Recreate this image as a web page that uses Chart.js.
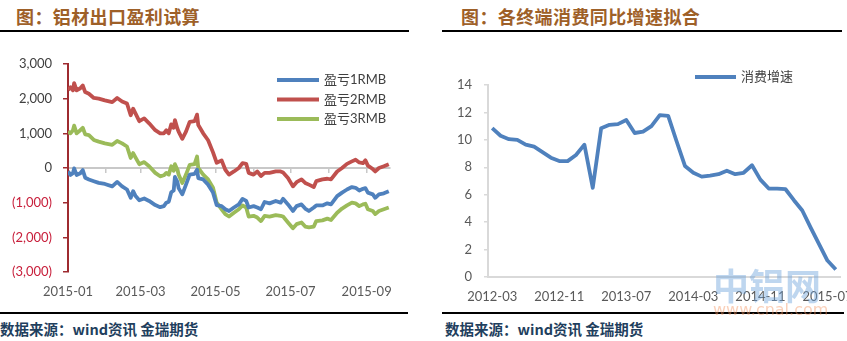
<!DOCTYPE html>
<html>
<head>
<meta charset="utf-8">
<script src="https://cdn.jsdelivr.net/npm/chart.js@4.4.1/dist/chart.umd.min.js"></script>
<style>
  html, body { margin: 0; padding: 0; background: #fff; }
  body { width: 847px; height: 341px; position: relative; overflow: hidden; font-family: 'Noto Sans CJK SC', sans-serif; }
  .title { position: absolute; top: 3px; font-size: 18px; font-weight: bold; color: #9E6028; letter-spacing: 0.4px; white-space: nowrap; }
  .rule { position: absolute; height: 2px; background: #000; }
  .src { position: absolute; top: 318px; font-size: 14.5px; font-weight: bold; color: #1F3F5E; white-space: nowrap; }
  canvas { position: absolute; }
  .wm1 { position: absolute; left: 713px; top: 258px; font-size: 36px; font-weight: bold; color: rgba(110,165,220,0.45); white-space: nowrap; }
  .wm2 { position: absolute; left: 713px; top: 300px; font-size: 16px; color: rgba(245,150,100,0.45); white-space: nowrap; font-family: 'DejaVu Sans', sans-serif; }
</style>
</head>
<body>
<div class="title" style="left:16px">图：铝材出口盈利试算</div>
<div class="title" style="left:461px">图：各终端消费同比增速拟合</div>
<div class="rule" style="left:0;top:30px;width:409px"></div>
<div class="rule" style="left:442px;top:30px;width:400px"></div>
<canvas id="chartLoss" width="410" height="272" style="left:0;top:35px"></canvas>
<canvas id="chartCons" width="440" height="275" style="left:430px;top:35px"></canvas>
<div class="rule" style="left:0;top:312px;width:408px"></div>
<div class="rule" style="left:442px;top:312px;width:402px"></div>
<div class="src" style="left:0">数据来源：wind资讯 金瑞期货</div>
<div class="src" style="left:445px">数据来源：wind资讯 金瑞期货</div>
<div class="wm1">中铝网</div>
<div class="wm2">www.cnal.com</div>

<script>
// 铝材出口盈利试算 (2015)
const lossDates = ['2015-01-01','2015-01-03','2015-01-05','2015-01-06','2015-01-08','2015-01-11','2015-01-13','2015-01-15','2015-01-18','2015-01-22',
  '2015-01-26','2015-01-31','2015-02-06','2015-02-10','2015-02-14','2015-02-18','2015-02-21','2015-02-23','2015-02-25','2015-02-28',
  '2015-03-04','2015-03-08','2015-03-13','2015-03-17','2015-03-20','2015-03-22','2015-03-24','2015-03-26','2015-03-28','2015-03-29',
  '2015-03-31','2015-04-01','2015-04-04','2015-04-07','2015-04-10','2015-04-14','2015-04-16','2015-04-17','2015-04-21','2015-04-25',
  '2015-04-29','2015-05-02','2015-05-06','2015-05-09','2015-05-12','2015-05-16','2015-05-20','2015-05-23','2015-05-26','2015-05-28',
  '2015-06-01','2015-06-04','2015-06-07','2015-06-10','2015-06-14','2015-06-19','2015-06-23','2015-06-25','2015-06-29','2015-07-03',
  '2015-07-06','2015-07-10','2015-07-13','2015-07-16','2015-07-20','2015-07-22','2015-07-27','2015-07-31','2015-08-03','2015-08-08',
  '2015-08-12','2015-08-16','2015-08-20','2015-08-23','2015-08-26','2015-08-29','2015-08-31','2015-09-02','2015-09-06','2015-09-08',
  '2015-09-11','2015-09-15','2015-09-19'];
const loss1 = [-100,-200,-150,-10,-200,-150,-60,-280,-330,-380,
  -430,-460,-530,-400,-530,-620,-860,-670,-810,-930,
  -880,-950,-1070,-1130,-1100,-1000,-970,-700,-650,-260,
  -400,-580,-760,-480,-190,-170,-50,-290,-330,-480,
  -710,-1070,-1100,-1190,-1240,-1140,-1050,-890,-950,-1140,
  -1100,-1140,-1190,-980,-1020,-950,-1000,-890,-1050,-1240,
  -1100,-1050,-1170,-1240,-1140,-1080,-1080,-1020,-1050,-810,
  -710,-620,-550,-570,-650,-600,-580,-710,-760,-860,
  -760,-730,-670];
const loss2 = [2250,2330,2240,2450,2240,2300,2380,2190,2140,2020,
  2000,1950,1900,2020,1920,1860,1520,1710,1570,1350,
  1430,1290,1090,1000,1000,1090,1000,1260,1160,1380,
  1140,1050,840,1050,1330,1350,1540,1240,1000,800,
  450,150,220,-50,-190,-100,0,140,120,-140,
  -190,-100,-230,-140,-140,-100,-100,-130,-290,-530,
  -410,-330,-430,-480,-550,-380,-330,-310,-330,-100,
  0,120,190,240,160,140,220,70,-30,-100,
  0,50,110];
const loss3 = [1050,1000,1090,1220,1000,1090,1160,970,950,810,
  760,710,670,780,710,620,290,430,300,110,
  170,50,-140,-240,-210,-140,-190,50,-80,110,
  -50,-190,-430,-190,90,110,330,0,-190,-330,
  -570,-1000,-1190,-1330,-1400,-1290,-1190,-1080,-1140,-1400,
  -1380,-1430,-1530,-1380,-1400,-1360,-1380,-1400,-1570,-1740,
  -1620,-1570,-1690,-1710,-1690,-1530,-1510,-1460,-1500,-1290,
  -1170,-1080,-1000,-1020,-1100,-1050,-1030,-1190,-1240,-1330,
  -1240,-1190,-1140];
const lossNames = ['盈亏1RMB', '盈亏2RMB', '盈亏3RMB'];
const monthStarts = ['2015-01-01','2015-02-01','2015-03-01','2015-04-01','2015-05-01','2015-06-01','2015-07-01','2015-08-01','2015-09-01'];
const lossTickLabels = ['2015-01','2015-03','2015-05','2015-07','2015-09'];

// 各终端消费同比增速
const consMonths = ['2012-03','2012-04','2012-05','2012-06','2012-07','2012-08','2012-09','2012-10','2012-11','2012-12',
  '2013-01','2013-02','2013-03','2013-04','2013-05','2013-06','2013-07','2013-08','2013-09','2013-10',
  '2013-11','2013-12','2014-01','2014-02','2014-03','2014-04','2014-05','2014-06','2014-07','2014-08',
  '2014-09','2014-10','2014-11','2014-12','2015-01','2015-02','2015-03','2015-04','2015-05','2015-06',
  '2015-07','2015-08'];
const consGrowth = [10.85,10.3,10.05,10.0,9.65,9.5,9.1,8.7,8.45,8.45,
  8.9,9.65,6.5,10.85,11.1,11.15,11.45,10.5,10.6,11.0,
  11.8,11.75,9.9,8.1,7.6,7.32,7.4,7.5,7.75,7.5,
  7.6,8.15,7.1,6.45,6.45,6.4,5.6,4.85,3.6,2.4,
  1.2,0.55];

const BLUE = '#4F81BD', RED = '#C0504D', GREEN = '#9BBB59';
const TXT = '#595959';

Chart.defaults.font.family = "Lato, 'Noto Sans CJK SC', sans-serif";
Chart.defaults.font.size = 13;
Chart.defaults.color = TXT;

const day0 = Date.parse('2015-01-01');
const dayOf = s => (Date.parse(s) - day0) / 86400000;
const pts = arr => arr.map((v, i) => ({ x: dayOf(lossDates[i]), y: v }));

// legend drawn inside the plot, like the excel one
const innerLegend = {
  id: 'innerLegend',
  afterDraw(chart, args, opts) {
    const ctx = chart.ctx;
    ctx.save();
    ctx.font = "13px Lato, 'Noto Sans CJK SC', sans-serif";
    ctx.textBaseline = 'middle';
    chart.data.datasets.forEach((ds, i) => {
      const y = opts.y + i * opts.gap;
      ctx.strokeStyle = ds.borderColor;
      ctx.lineWidth = 4;
      ctx.beginPath();
      ctx.moveTo(opts.x, y);
      ctx.lineTo(opts.x + opts.len, y);
      ctx.stroke();
      ctx.fillStyle = '#404040';
      ctx.fillText(ds.label, opts.x + opts.len + 5, y);
    });
    ctx.restore();
  }
};

const lossMin = 0, lossMax = 262;

new Chart(document.getElementById('chartLoss'), {
  type: 'line',
  data: {
    datasets: [
      { label: lossNames[0], data: pts(loss1), borderColor: BLUE },
      { label: lossNames[1], data: pts(loss2), borderColor: RED },
      { label: lossNames[2], data: pts(loss3), borderColor: GREEN }
    ]
  },
  options: {
    responsive: false,
    animation: false,
    layout: { padding: { top: 29, right: 20, left: 0, bottom: 0 } },
    elements: { point: { radius: 0 }, line: { borderWidth: 3.8, tension: 0, borderJoinStyle: 'round' } },
    plugins: {
      legend: { display: false },
      tooltip: { enabled: false },
      innerLegend: { x: 277, y: 45, gap: 19.5, len: 42 }
    },
    scales: {
      x: {
        type: 'linear', min: lossMin, max: lossMax,
        grid: { display: false, drawTicks: false },
        border: { display: false },
        afterBuildTicks: s => { s.ticks = lossTickLabels.map(l => ({ value: dayOf(l + '-01') })); },
        afterFit: s => { s.height = 35; },
        ticks: {
          padding: 12, maxRotation: 0, autoSkip: false, color: TXT,
          callback: v => lossTickLabels.find(l => dayOf(l + '-01') === v) || ''
        }
      },
      xZero: {
        axis: 'x', type: 'linear', min: lossMin, max: lossMax,
        position: { y: 0 },
        afterBuildTicks: s => { s.ticks = monthStarts.map(m => ({ value: dayOf(m) })); },
        grid: { drawOnChartArea: false, drawTicks: true, tickLength: 4, color: '#C8C8C8', lineWidth: 1.5 },
        border: { color: '#C8C8C8', width: 2 },
        ticks: { display: false }
      },
      y: {
        min: -3000, max: 3000,
        afterFit: s => { s.width = 68; },
        grid: { drawOnChartArea: false, tickLength: 5, color: '#9E2B30', lineWidth: 1.5 },
        border: { color: '#9E2B30', width: 2 },
        ticks: {
          stepSize: 1000, padding: 11,
          color: c => c.tick.value < 0 ? '#C8203C' : '#404040',
          callback: v => v < 0 ? '(' + Math.abs(v).toLocaleString('en-US') + ')' : v.toLocaleString('en-US')
        }
      }
    }
  },
  plugins: [innerLegend]
});

new Chart(document.getElementById('chartCons'), {
  type: 'line',
  data: {
    labels: consMonths,
    datasets: [{ label: '消费增速', data: consGrowth, borderColor: BLUE }]
  },
  options: {
    responsive: false,
    animation: false,
    layout: { padding: { top: 50, right: 30, left: 0, bottom: 0 } },
    elements: { point: { radius: 0 }, line: { borderWidth: 3.8, tension: 0, borderJoinStyle: 'round' } },
    plugins: {
      legend: { display: false },
      tooltip: { enabled: false },
      innerLegend: { x: 265, y: 42, gap: 0, len: 41 }
    },
    scales: {
      x: {
        offset: true,
        grid: { display: false, drawTicks: false, offset: true },
        border: { color: '#D9D9D9', width: 2 },
        afterFit: s => { s.height = 33; },
        ticks: {
          padding: 12, maxRotation: 0, autoSkip: false, color: TXT,
          callback: (v, i) => i % 8 === 0 ? consMonths[i] : ''
        }
      },
      y: {
        min: 0, max: 14,
        afterFit: s => { s.width = 58; },
        grid: { drawOnChartArea: false, tickLength: 4, color: '#D9D9D9', lineWidth: 1.5 },
        border: { color: '#D9D9D9', width: 2 },
        ticks: { stepSize: 2, padding: 12, color: TXT }
      }
    }
  },
  plugins: [innerLegend]
});
</script>
</body>
</html>
